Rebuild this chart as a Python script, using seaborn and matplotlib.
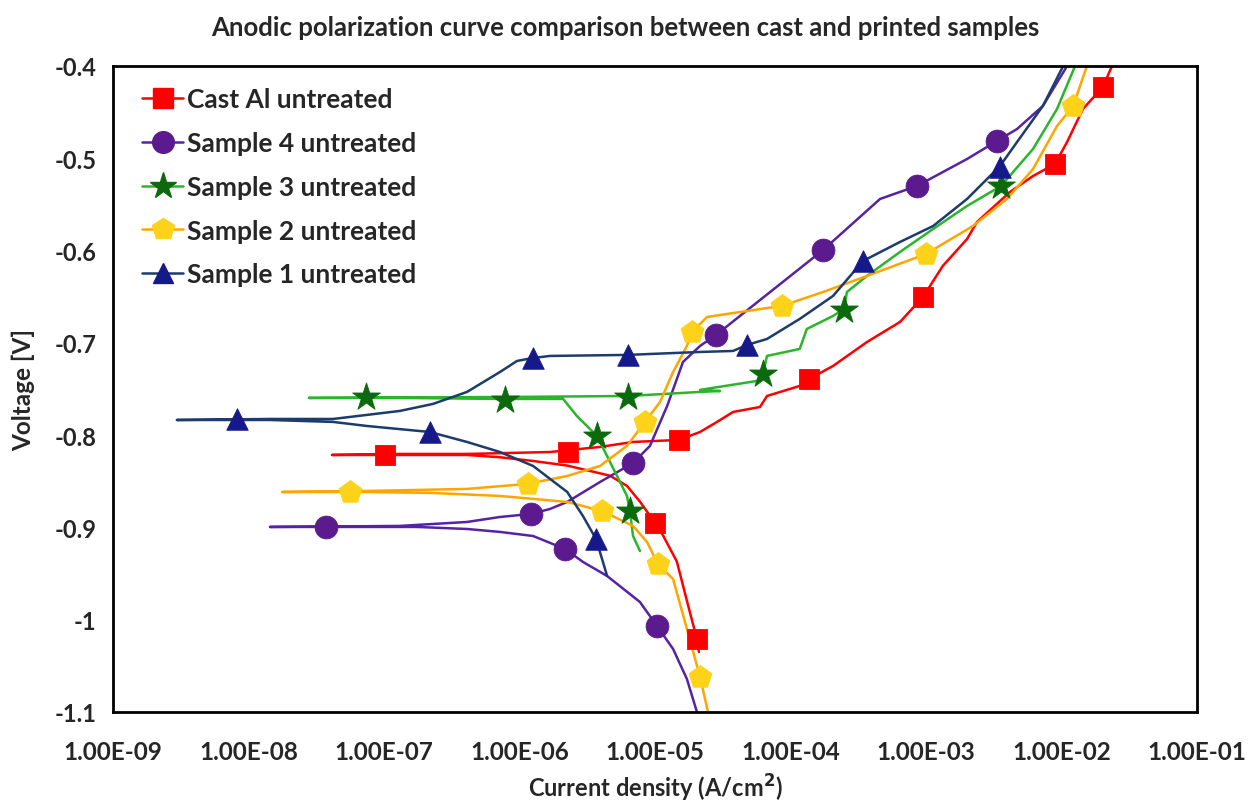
import numpy as np
import pandas as pd
import matplotlib
matplotlib.use("Agg")
import matplotlib.pyplot as plt
from matplotlib.lines import Line2D
from matplotlib.ticker import FuncFormatter, MultipleLocator, FixedLocator, NullFormatter
import seaborn as sns

# ---- Polarization scans: current density (A/cm2) and potential (V) ----
# Each scan runs from the cathodic end, through the corrosion potential,
# and up the anodic branch.
cast_i = [2.11e-5, 2.04e-5, 1.81e-5, 1.45e-5, 1.15e-5, 1.0e-5, 7.74e-6, 6.21e-6, 4.66e-6,
          2.25e-6, 1.26e-6, 7.18e-7, 4.10e-7, 1.31e-7, 4.13e-8, 1.31e-7, 4.10e-7, 1.68e-6,
          3.93e-6, 6.89e-6, 1.50e-5, 2.15e-5, 2.87e-5, 3.77e-5, 5.96e-5, 6.71e-5, 1.17e-4,
          1.37e-4, 2.06e-4, 3.67e-4, 6.43e-4, 9.51e-4, 1.33e-3, 2.01e-3, 2.38e-3, 4.17e-3,
          6.17e-3, 8.95e-3, 1.10e-2, 1.44e-2, 2.02e-2, 2.36e-2]
cast_v = [-1.035, -1.021, -0.992, -0.937, -0.909, -0.895, -0.872, -0.855, -0.844,
          -0.833, -0.828, -0.824, -0.8215, -0.8215, -0.8215, -0.8204, -0.8204, -0.8183,
          -0.8128, -0.8074, -0.8052, -0.7966, -0.7857, -0.7749, -0.7695, -0.7576, -0.7467,
          -0.7392, -0.7251, -0.6991, -0.6774, -0.6503, -0.6167, -0.5875, -0.569, -0.5365,
          -0.5192, -0.5062, -0.4824, -0.4466, -0.4228, -0.400]

s4_i = [2.04e-5, 1.72e-5, 1.36e-5, 1.035e-5, 7.74e-6, 4.43e-6, 2.94e-6, 2.17e-6, 1.26e-6,
        7.18e-7, 4.10e-7, 1.75e-7, 4.21e-8, 1.44e-8, 1.31e-7, 4.10e-7, 7.18e-7, 1.22e-6,
        1.68e-6, 2.25e-6, 3.93e-6, 6.89e-6, 9.18e-6, 1.23e-5, 1.61e-5, 2.15e-5, 2.82e-5,
        1.74e-4, 4.58e-4, 8.59e-4, 2.01e-3, 3.34e-3, 4.70e-3, 7.29e-3, 1.10e-2]
s4_v = [-1.100, -1.0642, -1.0317, -1.0068, -0.9808, -0.9526, -0.9374, -0.9234, -0.9093,
        -0.9049, -0.9017, -0.8995, -0.8995, -0.8995, -0.8984, -0.8941, -0.8887, -0.8854,
        -0.880, -0.8724, -0.8508, -0.8302, -0.8117, -0.7684, -0.7207, -0.7034, -0.6915,
        -0.5994, -0.5441, -0.530, -0.5008, -0.4813, -0.4683, -0.4433, -0.400]

s3_i = [7.74e-6, 6.89e-6, 6.53e-6, 6.21e-6, 4.66e-6, 3.73e-6, 2.65e-6, 2.10e-6, 7.18e-7,
        1.31e-7, 2.79e-8, 1.31e-7, 7.18e-7, 6.32e-6, 2.15e-5, 3.02e-5, 2.15e-5, 5.66e-5,
        6.27e-5, 6.71e-5, 1.17e-4, 1.32e-4, 2.06e-4, 2.48e-4, 2.61e-4, 3.67e-4, 6.43e-4,
        1.13e-3, 2.01e-3, 3.58e-3, 6.17e-3, 9.27e-3, 1.26e-2]
s3_v = [-0.9255, -0.9093, -0.8822, -0.8659, -0.8291, -0.8009, -0.7792, -0.7608, -0.7608,
        -0.7597, -0.7597, -0.7592, -0.7587, -0.7576, -0.7532, -0.7522, -0.7510, -0.7413,
        -0.7337, -0.7142, -0.7066, -0.6850, -0.6709, -0.6633, -0.6449, -0.6275, -0.6015,
        -0.5766, -0.5517, -0.530, -0.4899, -0.4466, -0.400]

s2_i = [2.46e-5, 2.15e-5, 1.72e-5, 1.36e-5, 1.05e-5, 8.73e-6, 6.89e-6, 4.06e-6, 2.25e-6,
        7.18e-7, 2.30e-7, 7.50e-8, 1.77e-8, 7.50e-8, 4.10e-7, 1.13e-6, 2.25e-6, 3.93e-6,
        6.21e-6, 8.43e-6, 1.09e-5, 1.36e-5, 1.72e-5, 1.88e-5, 2.42e-5, 4.24e-5, 8.65e-5,
        1.74e-4, 3.67e-4, 1.0e-3, 2.22e-3, 3.96e-3, 6.17e-3, 9.27e-3, 1.22e-2, 1.54e-2]
s2_v = [-1.100, -1.062, -1.010, -0.9559, -0.9396, -0.9158, -0.8984, -0.8822, -0.8724,
        -0.8659, -0.8627, -0.8616, -0.8616, -0.8605, -0.8583, -0.8529, -0.8443, -0.8334,
        -0.8117, -0.7857, -0.7641, -0.7316, -0.7034, -0.6882, -0.6720, -0.6666, -0.6600,
        -0.6449, -0.6275, -0.6037, -0.5734, -0.5441, -0.5116, -0.4650, -0.4433, -0.400]

s1_i = [4.43e-6, 4.13e-6, 3.67e-6, 2.94e-6, 2.25e-6, 1.26e-6, 7.18e-7, 4.10e-7, 2.18e-7,
        7.50e-8, 4.21e-8, 1.44e-8, 2.96e-9, 1.44e-8, 4.21e-8, 1.31e-7, 2.30e-7, 4.10e-7,
        7.18e-7, 9.60e-7, 1.26e-6, 1.68e-6, 6.21e-6, 2.15e-5, 3.77e-5, 4.78e-5, 6.71e-5,
        1.17e-4, 2.06e-4, 3.43e-4, 6.43e-4, 1.13e-3, 2.01e-3, 3.52e-3, 4.70e-3, 7.29e-3,
        1.03e-2]
s1_v = [-0.9526, -0.9374, -0.9125, -0.8876, -0.8616, -0.8334, -0.8183, -0.8074, -0.7966,
        -0.7901, -0.7857, -0.7836, -0.7836, -0.7825, -0.7825, -0.7738, -0.7662, -0.7532,
        -0.7316, -0.7196, -0.7164, -0.7142, -0.7131, -0.7099, -0.7088, -0.7023, -0.6958,
        -0.6741, -0.6492, -0.6113, -0.5907, -0.5734, -0.5441, -0.5084, -0.4824, -0.4433,
        -0.400]

# ---- Symbol positions along each scan ----
cast_mk_i = [2.04e-5, 1.0e-5, 1.02e-7, 2.28e-6, 1.50e-5, 1.37e-4, 9.51e-4, 8.95e-3, 2.02e-2]
cast_mk_v = [-1.021, -0.895, -0.8215, -0.818, -0.805, -0.739, -0.650, -0.506, -0.423]
s4_mk_i = [1.035e-5, 2.17e-6, 3.73e-8, 1.22e-6, 6.89e-6, 2.82e-5, 1.74e-4, 8.59e-4, 3.34e-3]
s4_mk_v = [-1.0068, -0.9234, -0.8995, -0.8854, -0.8302, -0.6915, -0.5994, -0.530, -0.4813]
s3_mk_i = [6.53e-6, 3.73e-6, 7.36e-8, 7.82e-7, 6.32e-6, 6.27e-5, 2.48e-4, 3.58e-3]
s3_mk_v = [-0.8822, -0.8009, -0.7587, -0.7619, -0.7587, -0.7337, -0.6644, -0.530]
s2_mk_i = [2.15e-5, 1.05e-5, 4.06e-6, 5.61e-8, 1.15e-6, 8.43e-6, 1.88e-5, 8.65e-5, 1.0e-3, 1.22e-2]
s2_mk_v = [-1.062, -0.9396, -0.8822, -0.8616, -0.8529, -0.7857, -0.6882, -0.660, -0.6037, -0.4433]
s1_mk_i = [3.67e-6, 2.18e-7, 8.22e-9, 1.26e-6, 6.32e-6, 4.78e-5, 3.43e-4, 3.52e-3]
s1_mk_v = [-0.9125, -0.7966, -0.7825, -0.7164, -0.7131, -0.7023, -0.6113, -0.509]

labels = ["Cast Al untreated", "Sample 4 untreated", "Sample 3 untreated",
          "Sample 2 untreated", "Sample 1 untreated"]

# decade ticks on the current-density axis
x_decades = [1e-9, 1e-8, 1e-7, 1e-6, 1e-5, 1e-4, 1e-3, 1e-2, 1e-1]

series = [
    # (scan i, scan v, symbol i, symbol v, line colour, symbol colour, symbol, size)
    (cast_i, cast_v, cast_mk_i, cast_mk_v, "#FF0000", "#FF0000", "s", 210),
    (s4_i, s4_v, s4_mk_i, s4_mk_v, "#5523A6", "#5B1A8E", "o", 270),
    (s3_i, s3_v, s3_mk_i, s3_mk_v, "#2BB52B", "#0B6A0B", "*", 440),
    (s2_i, s2_v, s2_mk_i, s2_mk_v, "#FFA500", "#FFD21A", "p", 300),
    (s1_i, s1_v, s1_mk_i, s1_mk_v, "#1B3C6C", "#16198A", "^", 240),
]

sns.set_style("white")
plt.rcParams["font.family"] = ["Lato", "DejaVu Sans"]
plt.rcParams["font.weight"] = "bold"

fig = plt.figure(figsize=(12.58, 8.03), dpi=100)
ax = fig.add_axes([0.0898, 0.1121, 0.8617, 0.8045])
ax.set_xscale("log")

handles = []
for (ci, cv, mi, mv, lc, mc, mk, ms), lab in zip(series, labels):
    scan = pd.DataFrame({"i": ci, "v": cv})
    sns.lineplot(data=scan, x="i", y="v", sort=False, estimator=None,
                 color=lc, lw=1.8, ax=ax, zorder=2)
    pts = pd.DataFrame({"i": mi, "v": mv})
    sns.scatterplot(data=pts, x="i", y="v", marker=mk, s=ms, color=mc,
                    edgecolor=mc, linewidth=0.6, ax=ax, zorder=3)
    handles.append(Line2D([0], [0], color=lc, lw=1.8, marker=mk, markersize=np.sqrt(ms) * 0.95,
                          markerfacecolor=mc, markeredgecolor=mc))

ax.set_xlim(x_decades[0], x_decades[-1])
ax.set_ylim(-1.1, -0.4)

minor = [m * d for d in x_decades[:-1] for m in range(2, 10)]
ax.xaxis.set_major_locator(FixedLocator(x_decades))
ax.xaxis.set_minor_locator(FixedLocator(minor))
ax.xaxis.set_minor_formatter(NullFormatter())
ax.xaxis.set_major_formatter(FuncFormatter(lambda v, p: f"{v:.2E}"))
ax.yaxis.set_major_locator(MultipleLocator(0.1))
ax.yaxis.set_minor_locator(MultipleLocator(0.02))
ax.yaxis.set_major_formatter(FuncFormatter(lambda v, p: f"{round(v, 2):g}"))

ax.tick_params(axis="both", which="both", direction="in", width=1.5, color="black")
ax.tick_params(axis="x", which="major", length=7, pad=20, labelsize=17.5)
ax.tick_params(axis="x", which="minor", length=4)
ax.tick_params(axis="y", which="both", length=7)
ax.tick_params(axis="y", which="major", pad=12, labelsize=17)
for t in ax.get_xticklabels() + ax.get_yticklabels():
    t.set_fontweight("bold")

for sp in ax.spines.values():
    sp.set_visible(True)
    sp.set_linewidth(2)
    sp.set_color("black")

ax.set_xlabel("Current density (A/cm$^\\mathbf{2}$)", fontsize=17, fontweight="bold")
ax.xaxis.set_label_coords(0.5, -0.092)
ax.set_ylabel("Voltage [V]", fontsize=17.5, fontweight="bold")
ax.yaxis.set_label_coords(-0.072, 0.5)
fig.suptitle("Anodic polarization curve comparison between cast and printed samples",
             x=0.497, y=0.98, fontsize=18.5, fontweight="bold")

leg = ax.legend(handles, labels, loc="upper left", frameon=False,
                prop={"size": 19, "weight": "bold"}, handlelength=1.55,
                handletextpad=0.15, labelspacing=0.75, borderaxespad=0, borderpad=0,
                bbox_to_anchor=(0.027, 0.967))

fig.savefig("out.png", dpi=100)
